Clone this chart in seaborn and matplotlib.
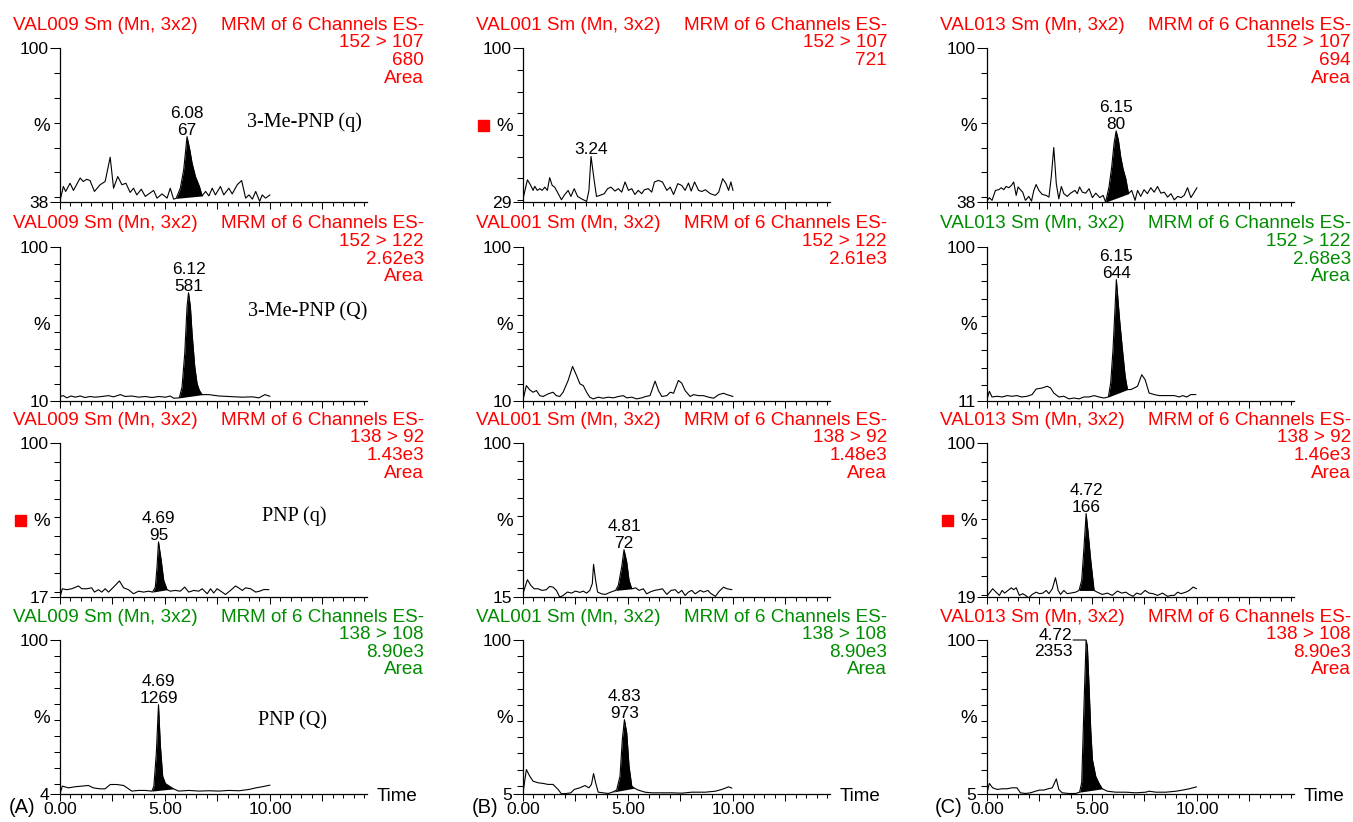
import numpy as np
import matplotlib
matplotlib.use("Agg")
import matplotlib.pyplot as plt
import seaborn as sns

# ---------------- data ----------------
samples = ["VAL009", "VAL001", "VAL013"]
transitions = ["152 > 107", "152 > 122", "138 > 92", "138 > 108"]
compounds = ["3-Me-PNP (q)", "3-Me-PNP (Q)", "PNP (q)", "PNP (Q)"]
panel_letters = ["(A)", "(B)", "(C)"]
ymins = [[38, 29, 38], [10, 10, 11], [17, 15, 19], [4, 5, 5]]
intensities = [["680", "721", "694"], ["2.62e3", "2.61e3", "2.68e3"],
               ["1.43e3", "1.48e3", "1.46e3"], ["8.90e3", "8.90e3", "8.90e3"]]
show_area = [[True, False, True], [True, False, True], [True, True, True], [True, True, True]]
header_green = [[False, False, False], [False, False, True], [False, False, False], [True, True, False]]
red_square = [[False, True, False], [False, False, False], [True, False, True], [False, False, False]]
peak_rt = [["6.08", "3.24", "6.15"], ["6.12", None, "6.15"], ["4.69", "4.81", "4.72"], ["4.69", "4.83", "4.72"]]
peak_height = [["67", None, "80"], ["581", None, "644"], ["95", "72", "166"], ["1269", "973", "2353"]]
integration = [[(5.53, 6.77), None, (5.65, 6.74)],
               [(5.68, 6.77), None, (5.78, 6.69)],
               [(4.41, 5.10), (4.41, 5.18), (4.38, 5.10)],
               [(4.38, 5.41), (4.25, 5.30), (4.41, 5.49)]]
x_tick_labels = ["0.00", "", "5.00", "", "10.00", ""]

trace_r1c1 = [(0.00,38.5),(0.16,44.3),(0.27,42.3),(0.48,45.6),(0.64,42.7),(0.96,47.7),(1.11,46.3),(1.27,47.2),(1.43,46.7),(1.64,42.3),(1.91,45.0),(2.15,46.3),(2.39,56.1),(2.55,43.6),(2.75,48.3),(2.95,45.0),(3.14,45.6),(3.34,41.9),(3.50,43.6),(3.66,40.9),(3.87,43.2),(4.06,40.3),(4.46,42.7),(4.62,39.6),(4.86,41.3),(5.10,39.6),(5.25,43.6),(5.41,39.2),(5.53,39.5),(5.73,43.6),(5.89,51.0),(6.05,64.4),(6.18,59.1),(6.29,53.7),(6.45,48.3),(6.64,44.3),(6.77,40.5),(6.93,42.3),(7.09,40.5),(7.25,43.6),(7.40,40.9),(7.64,44.3),(7.80,40.9),(8.04,43.6),(8.20,41.3),(8.44,45.0),(8.65,46.7),(8.84,39.6),(9.00,40.9),(9.16,39.2),(9.32,42.3),(9.51,38.3),(9.63,40.9),(9.79,39.6),(10.0,40.9)]
trace_r2c1 = [(0.00,12.4),(0.16,12.9),(0.32,11.6),(0.53,12.7),(0.72,12.0),(0.96,12.7),(1.19,11.8),(1.43,12.4),(1.67,12.0),(1.99,12.4),(2.31,12.9),(2.55,12.2),(2.87,13.5),(3.11,12.4),(3.42,12.7),(3.74,12.0),(4.06,12.4),(4.38,11.8),(4.70,12.4),(5.02,12.0),(5.25,12.7),(5.41,11.4),(5.68,11.6),(5.81,17.8),(5.94,37.5),(6.05,64.9),(6.12,73.1),(6.21,64.9),(6.29,49.2),(6.42,29.6),(6.53,19.8),(6.64,15.9),(6.77,13.5),(7.09,13.5),(7.56,12.7),(8.04,12.4),(8.68,12.0),(9.16,12.2),(9.47,11.6),(9.76,13.5),(10.0,12.5)]
trace_r3c1 = [(0.00,17.0),(0.11,21.5),(0.32,21.0),(0.56,21.5),(0.88,23.0),(1.04,21.5),(1.27,21.5),(1.51,22.0),(1.64,19.7),(1.83,21.0),(1.99,19.7),(2.15,21.5),(2.31,19.7),(2.55,22.4),(2.83,25.7),(3.03,22.0),(3.26,21.0),(3.50,18.8),(3.74,20.2),(3.98,19.7),(4.22,20.2),(4.41,19.7),(4.54,22.4),(4.62,33.2),(4.69,46.8),(4.82,36.8),(4.94,26.0),(5.10,21.0),(5.25,20.2),(5.49,20.6),(5.73,20.2),(5.94,22.4),(6.13,19.7),(6.37,20.6),(6.61,20.2),(6.77,21.5),(7.01,18.8),(7.17,21.5),(7.32,19.2),(7.48,21.5),(7.72,19.7),(7.88,18.4),(8.12,20.6),(8.36,23.0),(8.52,21.9),(8.68,20.6),(8.84,22.0),(9.08,21.5),(9.32,19.7),(9.51,20.2),(9.71,21.1),(9.95,21.0)]
trace_r4c1 = [(0.00,4.0),(0.11,8.8),(0.40,7.7),(0.72,8.4),(1.04,8.8),(1.35,9.2),(1.59,7.7),(1.91,7.1),(2.15,7.1),(2.39,9.8),(2.71,9.8),(3.03,9.2),(3.42,5.7),(3.74,6.1),(4.06,6.1),(4.38,5.7),(4.47,8.8),(4.59,30.0),(4.69,59.6),(4.78,34.0),(4.89,15.0),(5.02,10.4),(5.25,8.4),(5.41,7.1),(5.65,5.7),(6.13,6.1),(6.61,5.7),(7.09,5.9),(7.56,5.7),(8.04,6.1),(8.52,5.9),(9.00,6.7),(9.32,7.7),(9.63,8.4),(10.0,9.4)]

trace_r1c2 = [(0.00,30.5),(0.21,39.3),(0.37,36.7),(0.48,34.4),(0.56,36.3),(0.68,34.4),(0.80,35.2),(0.91,34.4),(1.04,35.9),(1.16,34.4),(1.27,40.3),(1.39,36.7),(1.51,35.9),(1.64,33.6),(1.83,30.1),(1.99,32.5),(2.15,34.4),(2.28,31.6),(2.44,35.2),(2.60,31.6),(2.79,30.5),(3.03,29.3),(3.14,34.4),(3.24,50.1),(3.39,39.0),(3.50,31.6),(3.66,32.1),(3.87,32.9),(4.03,35.2),(4.19,35.9),(4.38,34.1),(4.54,35.2),(4.70,33.6),(4.86,38.3),(5.02,34.4),(5.18,35.2),(5.33,32.5),(5.49,34.4),(5.65,32.9),(5.78,34.7),(5.97,35.2),(6.13,33.6),(6.26,38.3),(6.45,39.0),(6.64,38.3),(6.85,34.4),(7.01,35.9),(7.17,32.5),(7.37,37.5),(7.56,36.7),(7.72,34.4),(7.88,37.8),(8.01,34.1),(8.17,38.3),(8.36,34.4),(8.52,33.9),(8.68,34.7),(8.92,32.9),(9.16,32.1),(9.32,33.6),(9.51,39.8),(9.67,37.5),(9.79,34.4),(9.90,38.3),(10.0,34.4)]
trace_r2c2 = [(0.00,10.4),(0.16,18.8),(0.32,16.3),(0.48,14.9),(0.64,15.9),(0.80,12.9),(0.96,12.4),(1.19,13.9),(1.43,14.9),(1.59,12.9),(1.75,12.4),(1.91,14.9),(2.15,21.8),(2.36,30.0),(2.55,24.7),(2.71,19.8),(2.87,18.8),(3.03,14.9),(3.18,12.0),(3.34,11.0),(3.58,12.0),(3.82,11.4),(4.06,12.0),(4.30,11.6),(4.54,12.4),(4.78,12.9),(4.94,11.6),(5.18,12.0),(5.41,11.0),(5.65,11.6),(5.84,12.4),(6.05,12.9),(6.29,21.4),(6.45,15.9),(6.61,12.4),(6.85,12.9),(7.01,14.9),(7.17,14.3),(7.40,21.8),(7.56,20.2),(7.72,15.9),(7.96,12.4),(8.12,13.5),(8.36,12.9),(8.60,12.9),(8.84,12.0),(9.08,11.4),(9.32,13.5),(9.55,14.3),(9.71,13.5),(9.87,12.9),(10.0,12.4)]
trace_r3c2 = [(0.00,17.0),(0.21,24.6),(0.37,21.5),(0.53,19.6),(0.72,19.6),(0.91,18.7),(1.11,19.1),(1.27,20.9),(1.43,20.5),(1.59,18.7),(1.75,15.0),(1.91,15.9),(2.12,17.8),(2.31,17.2),(2.50,18.3),(2.71,17.6),(2.87,18.3),(3.03,17.2),(3.18,18.7),(3.30,22.4),(3.36,33.1),(3.46,24.2),(3.55,17.8),(3.74,16.8),(3.93,16.5),(4.14,17.6),(4.41,18.7),(4.54,21.5),(4.70,31.6),(4.81,41.2),(4.94,34.4),(5.05,24.2),(5.18,19.6),(5.37,20.1),(5.53,18.7),(5.73,19.6),(5.89,16.8),(6.05,17.8),(6.26,18.7),(6.45,19.1),(6.64,19.6),(6.85,16.5),(7.05,18.7),(7.25,19.1),(7.40,17.2),(7.56,18.7),(7.72,15.9),(7.88,17.8),(8.04,18.7),(8.20,16.8),(8.44,18.7),(8.60,17.8),(8.81,18.7),(8.92,17.2),(9.16,15.4),(9.35,18.3),(9.55,20.5),(9.71,19.6),(9.95,19.1)]
trace_r4c2 = [(0.00,5.5),(0.16,20.0),(0.32,15.9),(0.48,12.8),(0.72,11.8),(0.96,11.4),(1.19,10.8),(1.43,10.8),(1.67,7.7),(1.83,5.0),(2.07,5.2),(2.28,5.6),(2.44,7.7),(2.71,8.7),(2.95,10.1),(3.14,8.7),(3.26,10.8),(3.36,17.5),(3.46,11.8),(3.58,6.0),(3.82,5.6),(4.06,5.2),(4.25,6.0),(4.46,7.3),(4.62,15.9),(4.73,38.5),(4.83,50.8),(4.94,42.6),(5.05,22.0),(5.18,9.7),(5.30,8.5),(5.49,7.3),(5.81,6.0),(6.13,5.6),(6.61,5.6),(7.09,5.6),(7.56,5.4),(8.04,6.0),(8.68,6.0),(9.16,6.6),(9.47,7.7),(9.79,9.3),(9.95,8.5)]

trace_r1c3 = [(0.00,38.4),(0.11,39.8),(0.24,38.7),(0.40,42.7),(0.56,43.0),(0.68,43.8),(0.80,43.0),(0.91,44.3),(1.04,43.8),(1.16,44.7),(1.27,46.1),(1.39,40.7),(1.48,44.1),(1.59,43.0),(1.70,42.0),(1.83,38.7),(1.99,40.3),(2.12,38.4),(2.23,42.7),(2.34,45.1),(2.47,42.7),(2.63,41.1),(2.82,40.7),(2.95,40.0),(3.06,48.1),(3.18,60.0),(3.30,45.4),(3.42,39.3),(3.54,44.3),(3.66,41.4),(3.82,40.3),(3.98,41.6),(4.19,42.7),(4.30,41.4),(4.41,44.1),(4.54,42.0),(4.70,41.6),(4.86,43.4),(5.02,39.8),(5.18,41.6),(5.37,39.8),(5.53,40.7),(5.65,38.0),(5.81,44.1),(5.94,52.2),(6.05,61.6),(6.15,66.7),(6.26,62.9),(6.37,56.1),(6.48,51.4),(6.61,47.4),(6.74,41.4),(6.89,42.7),(7.05,38.7),(7.17,42.7),(7.32,40.3),(7.48,43.0),(7.64,41.4),(7.80,43.8),(7.96,42.0),(8.12,44.3),(8.28,41.6),(8.44,42.0),(8.60,40.0),(8.76,41.4),(8.92,38.9),(9.08,40.3),(9.24,39.8),(9.39,40.7),(9.55,43.8),(9.71,39.8),(9.87,42.0),(10.0,43.8)]
trace_r2c3 = [(0.00,11.6),(0.11,16.4),(0.24,13.1),(0.48,13.5),(0.72,13.1),(0.96,13.9),(1.19,13.5),(1.43,13.9),(1.64,13.1),(1.91,13.5),(2.15,14.5),(2.34,17.7),(2.63,18.3),(2.87,19.3),(3.03,18.3),(3.18,15.4),(3.42,13.1),(3.66,13.5),(3.90,12.0),(4.14,12.5),(4.38,12.0),(4.62,13.1),(4.86,13.1),(5.10,13.9),(5.33,13.1),(5.57,12.5),(5.78,13.1),(5.89,21.2),(6.00,40.3),(6.10,65.3),(6.16,81.0),(6.22,72.0),(6.32,57.0),(6.45,40.5),(6.58,25.1),(6.69,17.4),(6.85,17.4),(7.01,18.3),(7.17,19.3),(7.37,26.0),(7.53,23.1),(7.72,15.4),(7.96,14.5),(8.20,13.9),(8.44,13.9),(8.68,13.9),(8.92,13.9),(9.16,13.1),(9.32,13.9),(9.51,13.1),(9.71,14.5),(9.95,14.5)]
trace_r3c3 = [(0.00,19.4),(0.11,21.1),(0.27,23.4),(0.43,21.6),(0.59,19.9),(0.72,22.5),(0.84,21.1),(1.00,22.5),(1.16,23.9),(1.27,22.9),(1.39,23.9),(1.54,19.9),(1.70,20.8),(1.83,19.9),(1.99,18.6),(2.15,20.4),(2.34,21.6),(2.50,20.8),(2.66,21.1),(2.82,22.5),(2.95,20.8),(3.11,23.4),(3.26,29.2),(3.39,22.5),(3.50,20.4),(3.66,22.5),(3.82,20.8),(3.98,21.1),(4.22,21.6),(4.38,22.5),(4.51,27.8),(4.62,45.4),(4.72,63.0),(4.82,52.5),(4.94,38.4),(5.10,22.5),(5.25,21.6),(5.49,20.4),(5.73,21.1),(5.97,19.9),(6.21,22.2),(6.42,21.1),(6.61,21.6),(6.77,20.4),(6.96,19.4),(7.12,21.1),(7.32,20.4),(7.53,22.5),(7.72,21.1),(7.91,20.8),(8.12,19.9),(8.36,21.1),(8.60,19.4),(8.76,19.9),(8.92,19.9),(9.08,21.6),(9.24,20.8),(9.47,21.6),(9.63,22.5),(9.82,24.3),(9.98,23.4)]
trace_r4c3 = [(0.00,5.6),(0.11,11.4),(0.27,8.7),(0.48,7.7),(0.72,8.1),(0.96,8.1),(1.19,8.7),(1.43,8.7),(1.59,5.6),(1.83,5.2),(2.07,5.6),(2.31,6.6),(2.50,7.3),(2.71,7.3),(2.91,8.1),(3.11,8.7),(3.30,14.2),(3.42,7.7),(3.58,5.6),(3.90,5.2),(4.22,5.2),(4.41,6.0),(4.51,12.0),(4.62,60.0),(4.72,100.0),(4.78,96.0),(4.86,71.3),(4.94,44.6),(5.02,26.1),(5.18,15.7),(5.33,11.6),(5.49,8.1),(5.73,6.6),(6.13,6.0),(6.61,6.0),(7.09,5.6),(7.56,6.0),(7.72,6.6),(8.04,6.0),(8.52,6.0),(9.00,6.6),(9.32,7.3),(9.63,8.1),(9.98,9.3)]

traces = [[trace_r1c1, trace_r1c2, trace_r1c3],
          [trace_r2c1, trace_r2c2, trace_r2c3],
          [trace_r3c1, trace_r3c2, trace_r3c3],
          [trace_r4c1, trace_r4c2, trace_r4c3]]

# ---------------- layout ----------------
W, H, DPI = 1353, 822, 100
RED = "#ff0000"
GREEN = "#008c00"
col_left = [60, 523, 987]
row_top = [48.3, 246.8, 443.3, 640.0]
AX_W, AX_H = 307.0, 153.8
XMAX = 14.62
compound_pos = [(247, 79), (248, 70), (262, 78), (258, 85)]  # (x px, baseline offset from row top)
LEFT_LABEL = (3, 2)
HDR_FS, TICK_FS, PEAK_FS = 13.6, 12.6, 12.4


def pt(px):
    return px * 72.0 / DPI


sns.set_style("ticks")
plt.rcParams["font.family"] = ["Liberation Sans", "DejaVu Sans"]
for key in ["text.color", "axes.labelcolor", "xtick.color", "ytick.color", "axes.edgecolor"]:
    plt.rcParams[key] = "black"

fig = plt.figure(figsize=(W / DPI, H / DPI), dpi=DPI)


def ftext(x, y, s, **kw):
    fig.text(x / W, 1 - y / H, s, **kw)


for r in range(4):
    for c in range(3):
        L, T = col_left[c], row_top[r]
        ymin = ymins[r][c]
        ax = fig.add_axes([L / W, 1 - (T + AX_H) / H, AX_W / W, AX_H / H])
        pts = traces[r][c]
        t = np.array([p[0] for p in pts])
        y = np.array([p[1] for p in pts])
        sns.lineplot(x=t, y=y, ax=ax, color="black", linewidth=0.8,
                     estimator=None, sort=False)
        if integration[r][c] is not None:
            t0, t1 = integration[r][c]
            m = (t >= t0 - 1e-9) & (t <= t1 + 1e-9)
            ts, ys = t[m], y[m]
            base = np.interp(ts, [ts[0], ts[-1]], [ys[0], ys[-1]])
            ax.fill_between(ts, ys, base, color="black", linewidth=0)

        ax.set_xlim(0, XMAX)
        ax.set_ylim(ymin, 100)
        ax.set_xlabel("")
        ax.set_ylabel("")
        for s in ["top", "right"]:
            ax.spines[s].set_visible(False)
        for s in ["left", "bottom"]:
            ax.spines[s].set_linewidth(0.9)
            ax.spines[s].set_color("black")

        ax.set_xticks(np.arange(0, 12.6, 2.5))
        ax.set_xticks(np.arange(0, 14.6, 0.5), minor=True)
        if r == 3:
            ax.set_xticklabels(x_tick_labels)
        else:
            ax.set_xticklabels([])
        ax.set_yticks([ymin, 100])
        ax.set_yticklabels([str(ymin), "100"])
        ax.set_yticks([v for v in range(10, 100, 10) if v > ymin], minor=True)
        ax.tick_params(axis="x", which="major", direction="out", length=pt(7), width=0.75,
                       pad=pt(1), labelsize=TICK_FS, colors="black")
        ax.tick_params(axis="x", which="minor", direction="out", length=pt(4), width=0.75,
                       colors="black")
        ax.tick_params(axis="y", which="major", direction="out", length=pt(10), width=0.75,
                       pad=pt(1), labelsize=TICK_FS, colors="black")
        ax.tick_params(axis="y", which="minor", direction="out", length=pt(6), width=0.75,
                       colors="black")

        # % label and marker
        ftext(L - 10, T + 83, "%", ha="right", va="baseline", fontsize=13.5, color="black")
        if red_square[r][c]:
            ax.plot([-40 / AX_W], [1 - 77 / AX_H], marker="s", ms=pt(11), color=RED,
                    transform=ax.transAxes, clip_on=False, linestyle="none")

        # header
        hc = GREEN if header_green[r][c] else RED
        ftext(L - 47, T - 18.5, f"{samples[c]} Sm (Mn, 3x2)", ha="left", va="baseline",
              fontsize=HDR_FS, color=hc)
        lines = ["MRM of 6 Channels ES-", transitions[r], intensities[r][c]]
        if show_area[r][c]:
            lines.append("Area")
        for i, s in enumerate(lines):
            ftext(L + 364, T - 18.5 + 17.6 * i, s, ha="right", va="baseline",
                  fontsize=HDR_FS, color=hc)

        # compound labels
        if c == 0:
            cx, cy = compound_pos[r]
            ftext(cx, T + cy, compounds[r], ha="left", va="baseline", fontsize=14.5,
                  family="Liberation Serif", color="black")

        # peak labels
        rt = peak_rt[r][c]
        if rt is not None:
            rtv = float(rt)
            near = np.abs(t - rtv) < 0.15
            ypk = y[near].max()
            tpk = t[near][np.argmax(y[near])]
            ph = peak_height[r][c]
            kw = dict(textcoords="offset points", va="baseline", fontsize=PEAK_FS,
                      color="black", annotation_clip=False)
            if (r, c) == LEFT_LABEL:
                ax.annotate(rt, (tpk, ypk), xytext=(-pt(14), pt(0.5)), ha="right", **kw)
                ax.annotate(ph, (tpk, ypk), xytext=(-pt(13), -pt(16.5)), ha="right", **kw)
                ax.annotate("", xy=(tpk, ypk), xytext=(-pt(13), 0), textcoords="offset points",
                            arrowprops=dict(arrowstyle="-", lw=0.8, color="black",
                                            shrinkA=0, shrinkB=0), annotation_clip=False)
            else:
                if ph is not None:
                    ax.annotate(rt, (tpk, ypk), xytext=(0, pt(19)), ha="center", **kw)
                    ax.annotate(ph, (tpk, ypk), xytext=(0, pt(2)), ha="center", **kw)
                else:
                    ax.annotate(rt, (tpk, ypk), xytext=(0, pt(2)), ha="center", **kw)

        if r == 3:
            ftext(L + AX_W + 10, T + AX_H + 7.5, "Time", ha="left", va="baseline",
                  fontsize=13.5, color="black")
            ftext(L - 25, T + AX_H + 19, panel_letters[c], ha="right", va="baseline",
                  fontsize=14.5, color="black")

fig.savefig("out.png", dpi=DPI)
